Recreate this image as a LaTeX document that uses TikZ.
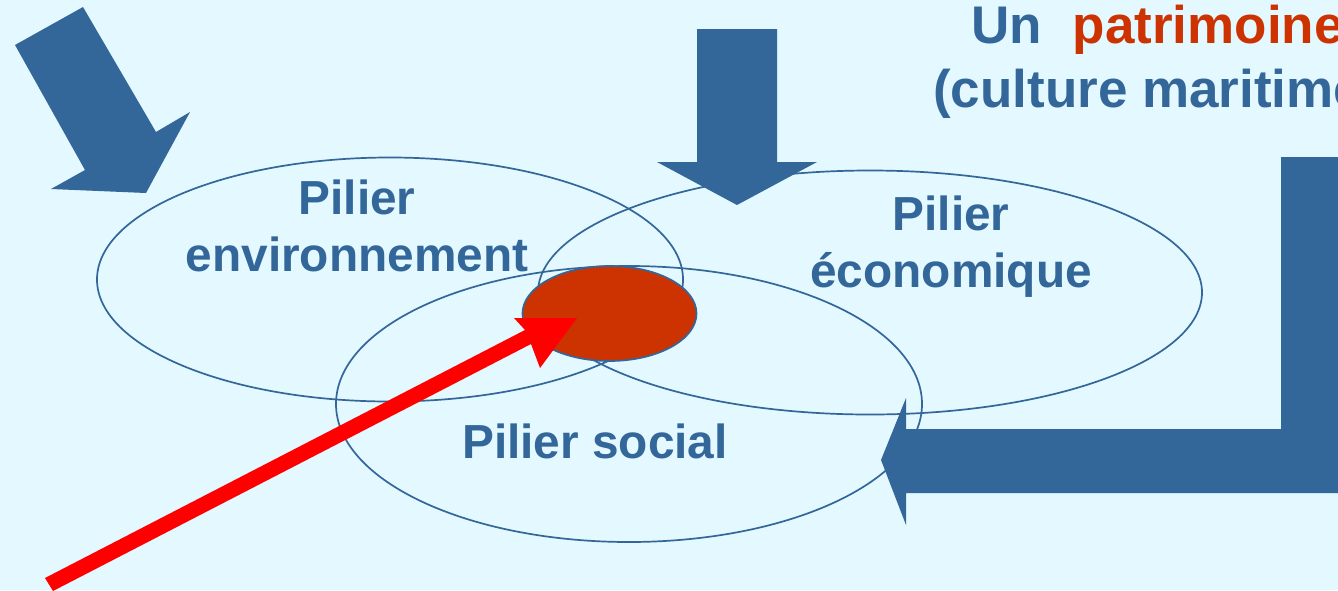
\documentclass[tikz,border=0pt]{standalone}
\usepackage{fontspec}
\setmainfont{Liberation Sans}
\definecolor{bg}{HTML}{E3F8FF}
\definecolor{bl}{HTML}{336699}
\definecolor{rd}{HTML}{CC3300}
\tikzset{x=1pt,y=-1pt,
 lbl/.style={text=bl,font=\bfseries\fontsize{47.8}{57}\selectfont,align=center,inner sep=0},
 ttl/.style={text=bl,font=\bfseries\fontsize{53}{62}\selectfont,inner sep=0},
 pilier/.style={draw=bl,line width=1.7pt},
 fat/.style={fill=bl,draw=none}}
\begin{document}
\begin{tikzpicture}
\path[use as bounding box,fill=bg] (0,0) rectangle (1338,590);
\begin{scope}
\clip (0,0) rectangle (1338,590);
\draw[pilier] (390,279.5) ellipse [x radius=293,y radius=122];
\draw[pilier] (870,292.5) ellipse [x radius=332,y radius=122];
\draw[pilier] (629,404) ellipse [x radius=293,y radius=138];
\draw[fill=rd,draw=bl,line width=1.7pt] (609.5,313.5) ellipse [x radius=87,y radius=47.5];
\fill[fat] (15,45) -- (83,7) -- (156,132) -- (190,112) -- (146,193) -- (51,189) -- (85,170) -- cycle;
\fill[fat] (697,29) -- (777,29) -- (777,162) -- (817,162) -- (737,205) -- (657,162) -- (697,162) -- cycle;
\fill[fat] (1338,157) -- (1281,157) -- (1281,429) -- (977,429) -- (906,429) -- (906,398) -- (881,460) -- (906,525) -- (906,493) -- (1338,493) -- cycle;
\fill[red] (45,578) -- (525,330) -- (514,318) -- (577,318) -- (540,368) -- (531,344) -- (53,591) -- cycle;
\node[lbl] (env) at (357,226) {Pilier\\environnement};
\node[lbl] (eco) at (951,247) {Pilier\\économique};
\node[lbl] (soc) at (595,441) {Pilier social};
\node[ttl,anchor=base west] (t1) at (971,43) {Un\hspace{31pt}\textcolor{rd}{patrimoine}};
\node[ttl,anchor=base west] (t2) at (933,107) {(culture maritime};
\end{scope}
\end{tikzpicture}
\end{document}
